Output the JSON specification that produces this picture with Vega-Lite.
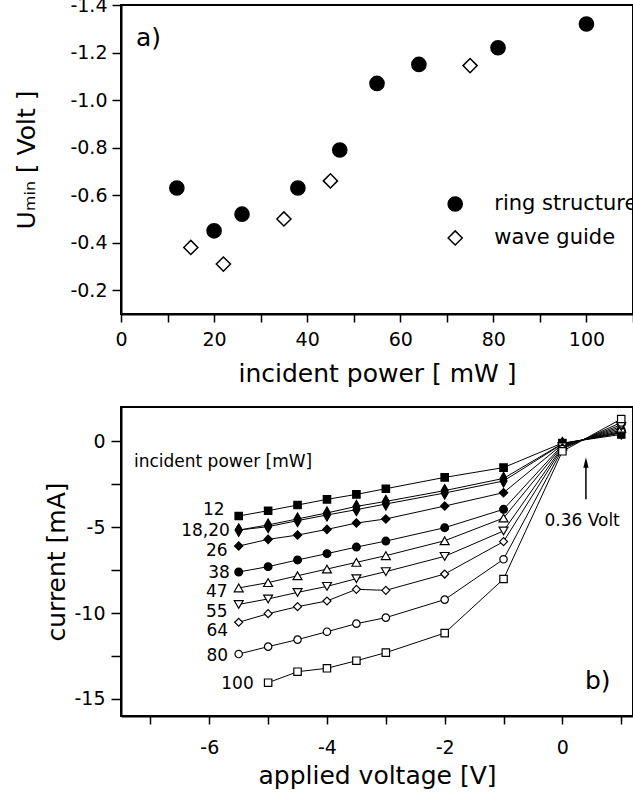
{
  "$schema": "https://vega.github.io/schema/vega-lite/v6.json",
  "padding": {"left": 13, "top": -5, "right": 0, "bottom": 0},
  "spacing": 19,
  "resolve": {
    "scale": {"shape": "independent", "fill": "independent", "size": "independent"},
    "legend": {"shape": "independent", "fill": "independent", "size": "independent"}
  },
  "config": {
    "font": "DejaVu Sans",
    "view": {"stroke": "black", "strokeWidth": 2},
    "axis": {
      "grid": false,
      "domainColor": "black",
      "domainWidth": 2,
      "tickColor": "black",
      "tickWidth": 1.5,
      "labelColor": "black",
      "labelFontSize": 19,
      "labelFont": "DejaVu Sans",
      "labelOverlap": false,
      "labelFlush": false,
      "labelBound": false,
      "titleColor": "black",
      "titleFont": "DejaVu Sans",
      "titleFontSize": 25,
      "titleFontWeight": "normal"
    }
  },
  "datasets": {
    "top": [
      {"P": 12, "U": -0.63, "type": "ring structure"},
      {"P": 20, "U": -0.45, "type": "ring structure"},
      {"P": 26, "U": -0.52, "type": "ring structure"},
      {"P": 38, "U": -0.63, "type": "ring structure"},
      {"P": 47, "U": -0.79, "type": "ring structure"},
      {"P": 55, "U": -1.07, "type": "ring structure"},
      {"P": 64, "U": -1.15, "type": "ring structure"},
      {"P": 81, "U": -1.22, "type": "ring structure"},
      {"P": 100, "U": -1.32, "type": "ring structure"},
      {"P": 15, "U": -0.38, "type": "wave guide"},
      {"P": 22, "U": -0.31, "type": "wave guide"},
      {"P": 35, "U": -0.50, "type": "wave guide"},
      {"P": 45, "U": -0.66, "type": "wave guide"},
      {"P": 75, "U": -1.145, "type": "wave guide"}
    ],
    "key": [
      {"P": 71.8, "U": -0.563, "Pt": 80.2, "type": "ring structure"},
      {"P": 71.8, "U": -0.42, "Pt": 80.2, "type": "wave guide"}
    ],
    "iv": [
      {"p": "12", "V": -5.5, "I": -4.35}, {"p": "12", "V": -5, "I": -4.04}, {"p": "12", "V": -4.5, "I": -3.71}, {"p": "12", "V": -4, "I": -3.38}, {"p": "12", "V": -3.5, "I": -3.09}, {"p": "12", "V": -3, "I": -2.76}, {"p": "12", "V": -2, "I": -2.10}, {"p": "12", "V": -1, "I": -1.53}, {"p": "12", "V": 0, "I": -0.10}, {"p": "12", "V": 1, "I": 0.40},
      {"p": "18", "V": -5.5, "I": -5.17}, {"p": "18", "V": -5, "I": -4.87}, {"p": "18", "V": -4.5, "I": -4.52}, {"p": "18", "V": -4, "I": -4.17}, {"p": "18", "V": -3.5, "I": -3.79}, {"p": "18", "V": -3, "I": -3.50}, {"p": "18", "V": -2, "I": -2.87}, {"p": "18", "V": -1, "I": -2.16}, {"p": "18", "V": 0, "I": -0.13}, {"p": "18", "V": 1, "I": 0.48},
      {"p": "20", "V": -5.5, "I": -5.17}, {"p": "20", "V": -5, "I": -4.97}, {"p": "20", "V": -4.5, "I": -4.62}, {"p": "20", "V": -4, "I": -4.29}, {"p": "20", "V": -3.5, "I": -3.98}, {"p": "20", "V": -3, "I": -3.65}, {"p": "20", "V": -2, "I": -3.01}, {"p": "20", "V": -1, "I": -2.31}, {"p": "20", "V": 0, "I": -0.15}, {"p": "20", "V": 1, "I": 0.52},
      {"p": "26", "V": -5.5, "I": -6.10}, {"p": "26", "V": -5, "I": -5.71}, {"p": "26", "V": -4.5, "I": -5.46}, {"p": "26", "V": -4, "I": -5.13}, {"p": "26", "V": -3.5, "I": -4.76}, {"p": "26", "V": -3, "I": -4.52}, {"p": "26", "V": -2, "I": -3.77}, {"p": "26", "V": -1, "I": -2.99}, {"p": "26", "V": 0, "I": -0.18}, {"p": "26", "V": 1, "I": 0.58},
      {"p": "38", "V": -5.5, "I": -7.61}, {"p": "38", "V": -5, "I": -7.30}, {"p": "38", "V": -4.5, "I": -6.91}, {"p": "38", "V": -4, "I": -6.54}, {"p": "38", "V": -3.5, "I": -6.16}, {"p": "38", "V": -3, "I": -5.81}, {"p": "38", "V": -2, "I": -5.03}, {"p": "38", "V": -1, "I": -3.96}, {"p": "38", "V": 0, "I": -0.22}, {"p": "38", "V": 1, "I": 0.66},
      {"p": "47", "V": -5.5, "I": -8.54}, {"p": "47", "V": -5, "I": -8.23}, {"p": "47", "V": -4.5, "I": -7.83}, {"p": "47", "V": -4, "I": -7.44}, {"p": "47", "V": -3.5, "I": -7.05}, {"p": "47", "V": -3, "I": -6.66}, {"p": "47", "V": -2, "I": -5.79}, {"p": "47", "V": -1, "I": -4.47}, {"p": "47", "V": 0, "I": -0.27}, {"p": "47", "V": 1, "I": 0.76},
      {"p": "55", "V": -5.5, "I": -9.50}, {"p": "55", "V": -5, "I": -9.18}, {"p": "55", "V": -4.5, "I": -8.80}, {"p": "55", "V": -4, "I": -8.45}, {"p": "55", "V": -3.5, "I": -8.00}, {"p": "55", "V": -3, "I": -7.59}, {"p": "55", "V": -2, "I": -6.70}, {"p": "55", "V": -1, "I": -5.22}, {"p": "55", "V": 0, "I": -0.32}, {"p": "55", "V": 1, "I": 0.86},
      {"p": "64", "V": -5.5, "I": -10.54}, {"p": "64", "V": -5, "I": -10.04}, {"p": "64", "V": -4.5, "I": -9.63}, {"p": "64", "V": -4, "I": -9.30}, {"p": "64", "V": -3.5, "I": -8.62}, {"p": "64", "V": -3, "I": -8.68}, {"p": "64", "V": -2, "I": -7.73}, {"p": "64", "V": -1, "I": -5.84}, {"p": "64", "V": 0, "I": -0.38}, {"p": "64", "V": 1, "I": 0.97},
      {"p": "80", "V": -5.5, "I": -12.39}, {"p": "80", "V": -5, "I": -11.96}, {"p": "80", "V": -4.5, "I": -11.55}, {"p": "80", "V": -4, "I": -11.09}, {"p": "80", "V": -3.5, "I": -10.62}, {"p": "80", "V": -3, "I": -10.27}, {"p": "80", "V": -2, "I": -9.22}, {"p": "80", "V": -1, "I": -6.87}, {"p": "80", "V": 0, "I": -0.45}, {"p": "80", "V": 1, "I": 1.10},
      {"p": "100", "V": -5, "I": -14.06}, {"p": "100", "V": -4.5, "I": -13.42}, {"p": "100", "V": -4, "I": -13.22}, {"p": "100", "V": -3.5, "I": -12.78}, {"p": "100", "V": -3, "I": -12.31}, {"p": "100", "V": -2, "I": -11.17}, {"p": "100", "V": -1, "I": -8.02}, {"p": "100", "V": 0, "I": -0.58}, {"p": "100", "V": 1, "I": 1.30}
    ],
    "lab": [
      {"text": "12", "V": -5.74, "I": -3.98},
      {"text": "18,20", "V": -5.65, "I": -5.24},
      {"text": "26", "V": -5.69, "I": -6.37},
      {"text": "38", "V": -5.65, "I": -7.67},
      {"text": "47", "V": -5.69, "I": -8.76},
      {"text": "55", "V": -5.69, "I": -9.92},
      {"text": "64", "V": -5.68, "I": -11.05},
      {"text": "80", "V": -5.68, "I": -12.49},
      {"text": "100", "V": -5.245, "I": -14.14}
    ]
  },
  "vconcat": [
    {
      "width": 512,
      "height": 309,
      "layer": [
        {
          "data": {"name": "top"},
          "mark": {"type": "point", "strokeWidth": 1.5, "opacity": 1, "size": 200},
          "encoding": {
            "x": {
              "field": "P", "type": "quantitative",
              "scale": {"domain": [0, 110], "nice": false, "zero": false},
              "axis": {
                "values": [0, 10, 20, 30, 40, 50, 60, 70, 80, 90, 100, 110],
                "labelExpr": "datum.value % 20 == 0 ? datum.label : ''",
                "tickSize": 8,
                "labelPadding": 8,
                "title": "incident power  [ mW ]",
                "titlePadding": 12
              }
            },
            "y": {
              "field": "U", "type": "quantitative",
              "scale": {"domain": [-1.4, -0.1], "reverse": true, "nice": false, "zero": false},
              "axis": {
                "values": [-1.4, -1.3, -1.2, -1.1, -1.0, -0.9, -0.8, -0.7, -0.6, -0.5, -0.4, -0.3, -0.2, -0.1],
                "labelExpr": "abs(round(datum.value * 10)) % 2 == 0 ? replace(format(datum.value, '.1f'), '−', '-') : ''",
                "tickSize": 9,
                "labelPadding": 5,
                "title": "Uₘᵢₙ [ Volt ]",
                "titlePadding": 30
              }
            },
            "shape": {
              "field": "type", "type": "nominal", "legend": null,
              "scale": {"domain": ["ring structure", "wave guide"], "range": ["circle", "diamond"]}
            },
            "fill": {
              "field": "type", "type": "nominal", "legend": null,
              "scale": {"domain": ["ring structure", "wave guide"], "range": ["black", "white"]}
            },
            "stroke": {"value": "black"}
          }
        },
        {
          "data": {"name": "key"},
          "mark": {"type": "point", "strokeWidth": 1.5, "opacity": 1, "size": 200},
          "encoding": {
            "x": {"field": "P", "type": "quantitative"},
            "y": {"field": "U", "type": "quantitative"},
            "shape": {"field": "type", "type": "nominal", "legend": null},
            "fill": {"field": "type", "type": "nominal", "legend": null},
            "stroke": {"value": "black"}
          }
        },
        {
          "data": {"name": "key"},
          "mark": {"type": "text", "align": "left", "baseline": "middle", "fontSize": 21, "color": "black"},
          "encoding": {
            "x": {"field": "Pt", "type": "quantitative"},
            "y": {"field": "U", "type": "quantitative"},
            "text": {"field": "type"}
          }
        },
        {
          "data": {"values": [{"P": 3.2, "U": -1.26, "t": "a)"}]},
          "mark": {"type": "text", "align": "left", "baseline": "middle", "fontSize": 25, "color": "black"},
          "encoding": {
            "x": {"field": "P", "type": "quantitative"},
            "y": {"field": "U", "type": "quantitative"},
            "text": {"field": "t"}
          }
        }
      ]
    },
    {
      "width": 512,
      "height": 309,
      "layer": [
        {
          "data": {"name": "iv"},
          "mark": {"type": "line", "color": "black", "strokeWidth": 1},
          "encoding": {
            "x": {
              "field": "V", "type": "quantitative",
              "scale": {"domain": [-7.5, 1.2], "nice": false, "zero": false},
              "axis": {
                "values": [-7, -6, -5, -4, -3, -2, -1, 0, 1],
                "labelExpr": "datum.value % 2 == 0 ? replace(format(datum.value, 'd'), '−', '-') : ''",
                "tickSize": 8,
                "labelPadding": 14,
                "title": "applied voltage [V]",
                "titlePadding": 6
              }
            },
            "y": {
              "field": "I", "type": "quantitative",
              "scale": {"domain": [-16, 2], "nice": false, "zero": false},
              "axis": {
                "values": [-15, -12.5, -10, -7.5, -5, -2.5, 0],
                "labelExpr": "datum.value % 5 == 0 ? replace(format(datum.value, 'd'), '−', '-') : ''",
                "tickSize": 10,
                "labelPadding": 6,
                "title": "current [mA]",
                "titlePadding": 4
              }
            },
            "detail": {"field": "p", "type": "nominal"}
          }
        },
        {
          "data": {"name": "iv"},
          "mark": {"type": "point", "strokeWidth": 1.2, "opacity": 1},
          "encoding": {
            "x": {"field": "V", "type": "quantitative"},
            "y": {"field": "I", "type": "quantitative"},
            "shape": {
              "field": "p", "type": "nominal", "legend": null,
              "scale": {
                "domain": ["12", "18", "20", "26", "38", "47", "55", "64", "80", "100"],
                "range": ["square", "M0,-1L0.58,0L0,1L-0.58,0Z", "M0,-1L0.58,0L0,1L-0.58,0Z", "diamond", "circle", "triangle-up", "triangle-down", "diamond", "circle", "square"]
              }
            },
            "fill": {
              "field": "p", "type": "nominal", "legend": null,
              "scale": {
                "domain": ["12", "18", "20", "26", "38", "47", "55", "64", "80", "100"],
                "range": ["black", "black", "black", "black", "black", "white", "white", "white", "white", "white"]
              }
            },
            "size": {
              "field": "p", "type": "nominal", "legend": null,
              "scale": {
                "type": "ordinal",
                "domain": ["12", "18", "20", "26", "38", "47", "55", "64", "80", "100"],
                "range": [55, 144, 144, 70, 60, 80, 80, 64, 55, 55]
              }
            },
            "stroke": {"value": "black"}
          }
        },
        {
          "data": {"name": "lab"},
          "mark": {"type": "text", "align": "right", "baseline": "middle", "fontSize": 17, "color": "black"},
          "encoding": {
            "x": {"field": "V", "type": "quantitative"},
            "y": {"field": "I", "type": "quantitative"},
            "text": {"field": "text"}
          }
        },
        {
          "data": {"values": [{"V": -7.28, "I": -1.22, "t": "incident power [mW]"}]},
          "mark": {"type": "text", "align": "left", "baseline": "middle", "fontSize": 17, "color": "black"},
          "encoding": {
            "x": {"field": "V", "type": "quantitative"},
            "y": {"field": "I", "type": "quantitative"},
            "text": {"field": "t"}
          }
        },
        {
          "data": {"values": [{"V": 0.335, "I": -4.62, "t": "0.36 Volt"}]},
          "mark": {"type": "text", "align": "center", "baseline": "middle", "fontSize": 17, "color": "black"},
          "encoding": {
            "x": {"field": "V", "type": "quantitative"},
            "y": {"field": "I", "type": "quantitative"},
            "text": {"field": "t"}
          }
        },
        {
          "data": {"values": [{"V": 0.6, "I": -13.94, "t": "b)"}]},
          "mark": {"type": "text", "align": "center", "baseline": "middle", "fontSize": 25, "color": "black"},
          "encoding": {
            "x": {"field": "V", "type": "quantitative"},
            "y": {"field": "I", "type": "quantitative"},
            "text": {"field": "t"}
          }
        },
        {
          "data": {"values": [{"V": 0.4, "I1": -3.38, "I2": -1.5}]},
          "mark": {"type": "rule", "color": "black", "strokeWidth": 1.5},
          "encoding": {
            "x": {"field": "V", "type": "quantitative"},
            "y": {"field": "I1", "type": "quantitative"},
            "y2": {"field": "I2"}
          }
        },
        {
          "data": {"values": [{"V": 0.4, "I": -1.23}]},
          "mark": {"type": "point", "shape": "M0,-1L0.5,1L-0.5,1Z", "size": 110, "filled": true, "color": "black", "opacity": 1},
          "encoding": {
            "x": {"field": "V", "type": "quantitative"},
            "y": {"field": "I", "type": "quantitative"}
          }
        }
      ]
    }
  ]
}
